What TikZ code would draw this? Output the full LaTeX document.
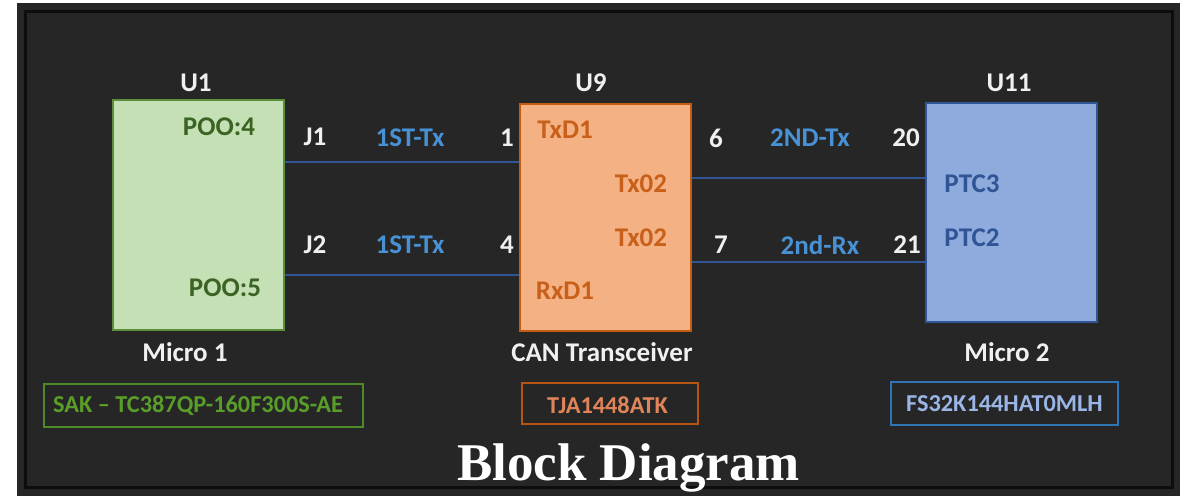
\documentclass[tikz,border=0pt]{standalone}
\usepackage{fontspec}
\setmainfont{Carlito}
\newfontfamily\titlefont{Liberation Serif}
\definecolor{panel}{HTML}{262626}
\definecolor{frame}{HTML}{0D0D0D}
\definecolor{gfill}{HTML}{C5E0B4}
\definecolor{gdraw}{HTML}{5B8F3A}
\definecolor{gtext}{HTML}{3B6324}
\definecolor{gpart}{HTML}{5A9E2A}
\definecolor{gpartbox}{HTML}{4E8A2A}
\definecolor{ofill}{HTML}{F4B183}
\definecolor{odraw}{HTML}{C55A11}
\definecolor{otext}{HTML}{C8601A}
\definecolor{opart}{HTML}{E0855A}
\definecolor{opartbox}{HTML}{B5550F}
\definecolor{bfill}{HTML}{8FAADC}
\definecolor{bdraw}{HTML}{2F5597}
\definecolor{btext}{HTML}{2F5597}
\definecolor{bpart}{HTML}{9AB5E6}
\definecolor{bpartbox}{HTML}{2E75B6}
\definecolor{wire}{HTML}{2F5597}
\definecolor{sig}{HTML}{4891D4}
\definecolor{lbl}{HTML}{F0F0F0}
\tikzset{
  blk/.style={draw, line width=1.5pt, minimum width=171pt, inner sep=0pt},
  txt/.style={inner sep=0pt, font=\fontsize{27}{32}\selectfont\bfseries},
  wlbl/.style={txt, text=lbl},
  slbl/.style={txt, text=sig},
  part/.style={draw, line width=1.5pt, inner sep=0pt, font=\fontsize{24.3}{28}\selectfont\bfseries},
  wirestyle/.style={draw=wire, line width=2pt}
}
\begin{document}
\begin{tikzpicture}[x=1pt,y=-1pt]
\useasboundingbox (0,0) rectangle (1189,496);
\fill[white] (0,0) rectangle (1189,496);
\fill[panel] (17,3) rectangle (1180,496);
\draw[frame, line width=3pt] (25,11) rectangle (1172,487);
% blocks
\node[blk, fill=gfill, draw=gdraw, minimum height=230pt] (u1) at (198.5,215) {};
\node[blk, fill=ofill, draw=odraw, minimum height=227pt] (u9) at (605.5,217.5) {};
\node[blk, fill=bfill, draw=bdraw, minimum height=219pt] (u11) at (1011.5,212.5) {};
% connectors
\coordinate (y1) at (0,162);
\coordinate (y2) at (0,275);
\coordinate (y3) at (0,178);
\coordinate (y4) at (0,262);
\draw[wirestyle] (u1.east |- y1) -- (u9.west |- y1);
\draw[wirestyle] (u1.east |- y2) -- (u9.west |- y2);
\draw[wirestyle] (u9.east |- y3) -- (u11.west |- y3);
\draw[wirestyle] (u9.east |- y4) -- (u11.west |- y4);
% titles
\node[wlbl] (t1) at (196,83) {U1};
\node[wlbl] (t9) at (591,83) {U9};
\node[wlbl] (t11) at (1009,83) {U11};
% pin names inside
\node[txt, text=gtext] (p4) at (219,127) {POO:4};
\node[txt, text=gtext] (p5) at (225,288) {POO:5};
\node[txt, text=otext] (txd) at (565,130) {TxD1};
\node[txt, text=otext] (tx1) at (641,184) {Tx02};
\node[txt, text=otext] (tx2) at (641,238) {Tx02};
\node[txt, text=otext] (rxd) at (565,291) {RxD1};
\node[txt, text=btext] (ptc3) at (972,184) {PTC3};
\node[txt, text=btext] (ptc2) at (972,238) {PTC2};
% wire labels
\node[wlbl] (j1) at (315,137) {J1};
\node[slbl] (s1) at (410,138) {1ST-Tx};
\node[wlbl] (n1) at (507,138) {1};
\node[wlbl] (j2) at (315,245) {J2};
\node[slbl] (s2) at (410,245) {1ST-Tx};
\node[wlbl] (n4) at (507,245) {4};
\node[wlbl] (n6) at (716,138) {6};
\node[slbl] (s3) at (810,138) {2ND-Tx};
\node[wlbl] (n20) at (906,138) {20};
\node[wlbl] (n7) at (721,245) {7};
\node[slbl] (s4) at (820,245) {2nd-Rx};
\node[wlbl] (n21) at (907,245) {21};
% captions
\node[wlbl] (m1) at (185,352) {Micro 1};
\node[wlbl] (can) at (602,352) {CAN Transceiver};
\node[wlbl] (m2) at (1007,352) {Micro 2};
% part numbers
\node[part, draw=gpartbox, minimum width=319pt, minimum height=43pt] (pn1) at (203.5,405.5) {};
\node[inner sep=0pt, text=gpart, font=\fontsize{24.3}{28}\selectfont\bfseries, anchor=west] (pn1t) at (53,406) {SAK – TC387QP-160F300S-AE};
\node[part, draw=opartbox, text=opart, minimum width=176pt, minimum height=41pt] (pn2) at (610,403.5) {};
\node[inner sep=0pt, text=opart, font=\fontsize{24.3}{28}\selectfont\bfseries] (pn2t) at (607.5,405) {TJA1448ATK};
\node[part, draw=bpartbox, text=bpart, minimum width=227pt, minimum height=43pt] (pn3) at (1004.5,403.5) {FS32K144HAT0MLH};
% title
\node[inner sep=0pt, text=white, font=\titlefont\fontsize{53}{60}\selectfont\bfseries, anchor=base] (title) at (628.5,480) {Block Diagram};
\end{tikzpicture}
\end{document}
